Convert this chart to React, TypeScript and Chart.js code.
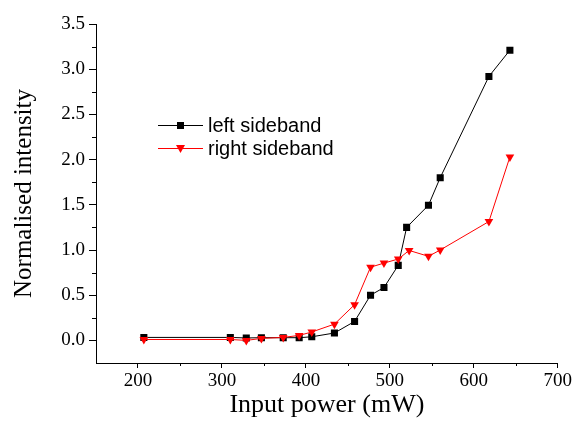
import React, { useEffect, useRef } from 'react';
import { Chart, registerables } from 'chart.js';

Chart.register(...registerables);

const inputPowerLeft = [207, 310, 329, 347, 373, 392, 407, 434, 458, 477, 493, 510, 520, 546, 560, 618, 643];
const leftSideband = [0.033, 0.033, 0.027, 0.03, 0.03, 0.03, 0.04, 0.082, 0.21, 0.5, 0.585, 0.83, 1.25, 1.495, 1.8, 2.92, 3.21];
const inputPowerRight = [207, 310, 329, 347, 373, 392, 407, 434, 458, 477, 493, 510, 523, 546, 560, 618, 643];
const rightSideband = [0.01, 0.01, 0.0, 0.022, 0.033, 0.055, 0.093, 0.18, 0.395, 0.81, 0.855, 0.9, 0.995, 0.93, 1.0, 1.315, 2.03];

const xTicks = [200, 300, 400, 500, 600, 700];
const xMinorTicks = [250, 350, 450, 550, 650];
const yTicks = [0, 0.5, 1.0, 1.5, 2.0, 2.5, 3.0, 3.5];
const yMinorTicks = [0.25, 0.75, 1.25, 1.75, 2.25, 2.75, 3.25];

const legendItems = [
  { label: 'left sideband', color: '#000000', marker: 'square' },
  { label: 'right sideband', color: '#ff0000', marker: 'triangleDown' },
];

const SERIF = '"Liberation Serif", "Times New Roman", Times, serif';
const SANS = '"Liberation Sans", Arial, Helvetica, sans-serif';

const minorTicksPlugin = {
  id: 'minorTicks',
  afterDraw(chart: any) {
    const { ctx, chartArea, scales } = chart;
    ctx.save();
    ctx.strokeStyle = '#000';
    ctx.lineWidth = 1;
    ctx.beginPath();
    xMinorTicks.forEach((v) => {
      const px = Math.round(scales.x.getPixelForValue(v)) + 0.5;
      ctx.moveTo(px, chartArea.bottom);
      ctx.lineTo(px, chartArea.bottom + 3);
    });
    yMinorTicks.forEach((v) => {
      const py = Math.round(scales.y.getPixelForValue(v)) + 0.5;
      ctx.moveTo(chartArea.left - 4, py);
      ctx.lineTo(chartArea.left, py);
    });
    ctx.stroke();
    ctx.restore();
  },
};

const legendPlugin = {
  id: 'floatLegend',
  afterDraw(chart: any) {
    const { ctx } = chart;
    ctx.save();
    legendItems.forEach((item, i) => {
      const y = 125 + i * 23;
      const x1 = 158;
      const x2 = 203;
      const cx = (x1 + x2) / 2;
      ctx.strokeStyle = item.color;
      ctx.fillStyle = item.color;
      ctx.lineWidth = 1;
      ctx.beginPath();
      ctx.moveTo(x1, y + 0.5);
      ctx.lineTo(x2, y + 0.5);
      ctx.stroke();
      ctx.beginPath();
      if (item.marker === 'square') {
        ctx.rect(cx - 3.5, y - 3, 7, 7);
      } else {
        ctx.moveTo(cx - 4.5, y - 3);
        ctx.lineTo(cx + 4.5, y - 3);
        ctx.lineTo(cx, y + 5);
        ctx.closePath();
      }
      ctx.fill();
      ctx.fillStyle = '#000';
      ctx.font = '20px ' + SANS;
      ctx.textBaseline = 'middle';
      ctx.textAlign = 'left';
      ctx.fillText(item.label, 208, y + 1);
    });
    ctx.restore();
  },
};

export default function App() {
  const canvasRef = useRef<HTMLCanvasElement | null>(null);

  useEffect(() => {
    if (!canvasRef.current) return;
    const chart = new Chart(canvasRef.current, {
      type: 'line',
      data: {
        datasets: [
          {
            label: 'left sideband',
            data: inputPowerLeft.map((x, i) => ({ x, y: leftSideband[i] })),
            borderColor: '#000000',
            backgroundColor: '#000000',
            borderWidth: 1,
            pointStyle: 'rect',
            pointRadius: 5,
            pointBorderWidth: 0,
            tension: 0,
            order: 2,
          },
          {
            label: 'right sideband',
            data: inputPowerRight.map((x, i) => ({ x, y: rightSideband[i] })),
            borderColor: '#ff0000',
            backgroundColor: '#ff0000',
            borderWidth: 1,
            pointStyle: 'triangle',
            pointRotation: 180,
            pointRadius: 5,
            pointBorderWidth: 0,
            tension: 0,
            order: 1,
          },
        ],
      },
      options: {
        responsive: false,
        animation: false,
        events: [],
        layout: { padding: { left: 0, top: 24, right: 15, bottom: 0 } },
        plugins: {
          legend: { display: false },
          tooltip: { enabled: false },
        },
        scales: {
          x: {
            type: 'linear',
            min: 150,
            max: 700,
            afterBuildTicks: (scale: any) => {
              scale.ticks = xTicks.map((v) => ({ value: v }));
            },
            afterFit: (scale: any) => {
              scale.height = 72;
            },
            grid: {
              drawOnChartArea: false,
              drawTicks: true,
              tickLength: 5,
              color: '#000',
              lineWidth: 1,
            },
            border: { display: true, color: '#000', width: 1 },
            ticks: {
              color: '#000',
              font: { family: SERIF, size: 19 },
              padding: 2,
              maxRotation: 0,
              autoSkip: false,
              callback: (v: any) => String(v),
            },
            title: {
              display: true,
              text: 'Input power (mW)',
              color: '#000',
              font: { family: SERIF, size: 26 },
              padding: { top: 0, bottom: 14 },
            },
          },
          y: {
            type: 'linear',
            min: -0.25,
            max: 3.5,
            afterBuildTicks: (scale: any) => {
              scale.ticks = yTicks.map((v) => ({ value: v }));
            },
            afterFit: (scale: any) => {
              scale.width = 96;
            },
            grid: {
              drawOnChartArea: false,
              drawTicks: true,
              tickLength: 7,
              color: '#000',
              lineWidth: 1,
            },
            border: { display: true, color: '#000', width: 1 },
            ticks: {
              color: '#000',
              font: { family: SERIF, size: 19 },
              padding: 4,
              autoSkip: false,
              callback: (v: any) => Number(v).toFixed(1),
            },
            title: {
              display: true,
              text: 'Normalised intensity',
              color: '#000',
              font: { family: SERIF, size: 25 },
              padding: { top: 9, bottom: 0 },
            },
          },
        },
      },
      plugins: [minorTicksPlugin, legendPlugin],
    });
    return () => chart.destroy();
  }, []);

  return (
    <div style={{ position: 'absolute', left: 0, top: 0, width: 574, height: 435, background: '#fff' }}>
      <canvas ref={canvasRef} width={574} height={435} style={{ display: 'block' }} />
    </div>
  );
}
